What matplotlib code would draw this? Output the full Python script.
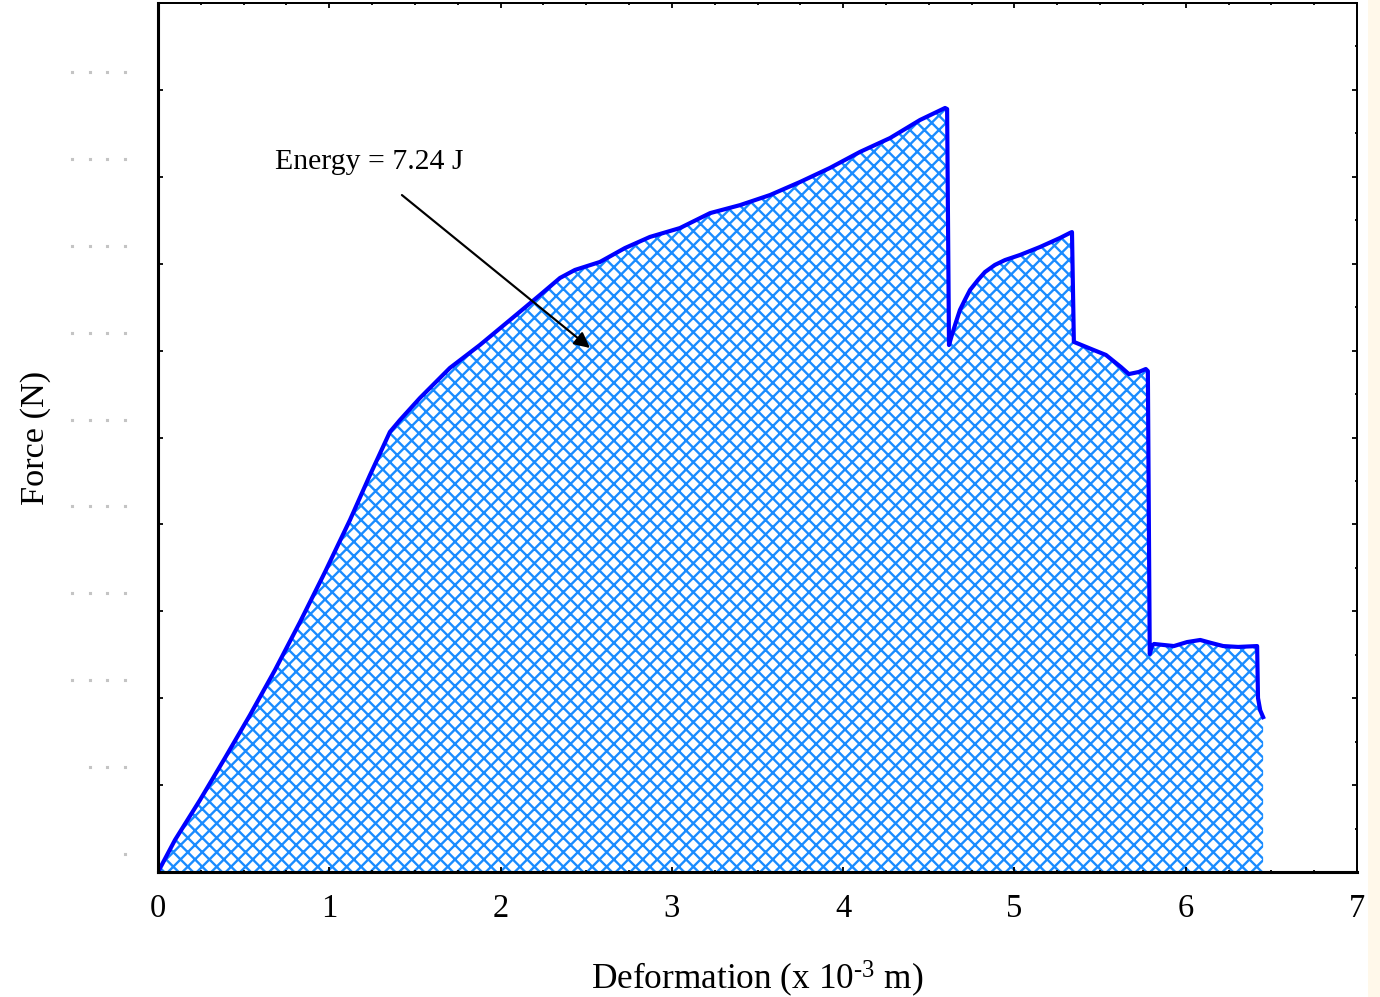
import matplotlib
matplotlib.use("Agg")
import matplotlib.pyplot as plt
import matplotlib.transforms as mtransforms
from matplotlib.ticker import MultipleLocator
from matplotlib.patches import Rectangle

# ---- data (deformation in 1e-3 m, force in N) ----
deformation = [0.000, 0.099, 0.245, 0.391, 0.537, 0.683, 0.829, 0.975, 1.121, 1.238,
               1.354, 1.413, 1.529, 1.704, 1.879, 2.055, 2.230, 2.347, 2.434, 2.580,
               2.726, 2.872, 3.047, 3.223, 3.398, 3.573, 3.748, 3.923, 4.098, 4.274,
               4.449, 4.595, 4.607, 4.618, 4.635, 4.659, 4.682, 4.711, 4.741, 4.787,
               4.828, 4.886, 4.945, 5.032, 5.149, 5.266, 5.324, 5.336, 5.347, 5.446,
               5.534, 5.621, 5.668, 5.726, 5.767, 5.779, 5.790, 5.803, 5.815, 5.931,
               6.008, 6.085, 6.148, 6.219, 6.306, 6.417, 6.422, 6.435, 6.452]
force = [0, 184, 414, 656, 903, 1162, 1438, 1726, 2026, 2285,
         2532, 2601, 2727, 2900, 3032, 3176, 3320, 3418, 3464, 3510,
         3590, 3654, 3705, 3791, 3837, 3895, 3970, 4051, 4143, 4223,
         4327, 4396, 4390, 3032, 3090, 3165, 3234, 3292, 3349, 3406,
         3452, 3493, 3521, 3550, 3596, 3648, 3677, 3682, 3050, 3010,
         2975, 2906, 2865, 2877, 2894, 2882, 1254, 1300, 1312, 1300,
         1323, 1335, 1318, 1300, 1295, 1300, 1001, 930, 891]

xticks = [0, 1, 2, 3, 4, 5, 6, 7]
yticks = [0, 500, 1000, 1500, 2000, 2500, 3000, 3500, 4000, 4500]
annotation_text = "Energy = 7.24 J"
xlabel_text = "Deformation (x 10$^{\\text{-3}}$ m)"
ylabel_text = "Force (N)"

# ---- style ----
plt.rcParams['font.family'] = ['Liberation Serif', 'DejaVu Serif']
plt.rcParams['mathtext.fontset'] = 'custom'
plt.rcParams['mathtext.rm'] = 'Liberation Serif'
plt.rcParams['mathtext.it'] = 'Liberation Serif:italic'
plt.rcParams['mathtext.bf'] = 'Liberation Serif:bold'
plt.rcParams['hatch.linewidth'] = 1.3

DPI = 130
fig = plt.figure(figsize=(1380 / DPI, 997 / DPI), dpi=DPI)
ax = fig.add_axes([158 / 1380, 1 - 872 / 997, (1357 - 158) / 1380, (872 - 3) / 997])

ax.fill_between(deformation, force, 0, facecolor='none', edgecolor='#1a8cff',
                hatch='xxx', linewidth=0)
ax.plot(deformation, force, color='#0000ff', linewidth=2.3, solid_joinstyle='round')

ax.set_xlim(0, 7)
ax.set_ylim(0, 5000)
ax.xaxis.set_minor_locator(MultipleLocator(0.25))
ax.yaxis.set_minor_locator(MultipleLocator(250))
ax.set_xticks(xticks)
ax.set_xticklabels([str(t) for t in xticks])
ax.set_yticks(yticks)
ax.set_yticklabels([''] * len(yticks))

ax.tick_params(which='both', direction='in', top=True, right=True, colors='black')
ax.tick_params(which='major', length=2.5, width=1.0, labelsize=18, pad=12)
ax.tick_params(which='minor', length=1.2, width=1.0)

for side in ['left', 'bottom']:
    ax.spines[side].set_linewidth(1.7)
for side in ['top', 'right']:
    ax.spines[side].set_linewidth(1.1)

# faint dotted placeholders for the y tick labels
dot_trans = mtransforms.offset_copy(ax.get_yaxis_transform(), fig=fig, x=0, y=18, units='dots')
for val in yticks:
    n = len(str(val))
    xs = [-(33 + 17.7 * i) / 1199 for i in range(n)]
    ax.plot(xs, [val] * n, linestyle='none', marker='s', markersize=0.7,
            color='#c4c4c4', transform=dot_trans, clip_on=False)

ax.set_xlabel(xlabel_text, fontsize=19.5, labelpad=19)
ax.set_ylabel(ylabel_text, fontsize=19)
ax.yaxis.set_label_coords(-0.089, 0.5)

ax.annotate('', xy=(2.522, 3015), xytext=(1.424, 3895),
            arrowprops=dict(arrowstyle='-|>', color='black', lw=1.2,
                            mutation_scale=18, shrinkA=0, shrinkB=0))
ax.text(0.683, 4085, annotation_text, fontsize=16.5, ha='left', va='center')

fig.add_artist(Rectangle((1368 / 1380, 0), 12 / 1380, 1, transform=fig.transFigure,
                         facecolor='#fff8ea', edgecolor='none'))

fig.savefig('out.png', dpi=DPI, facecolor='white')
